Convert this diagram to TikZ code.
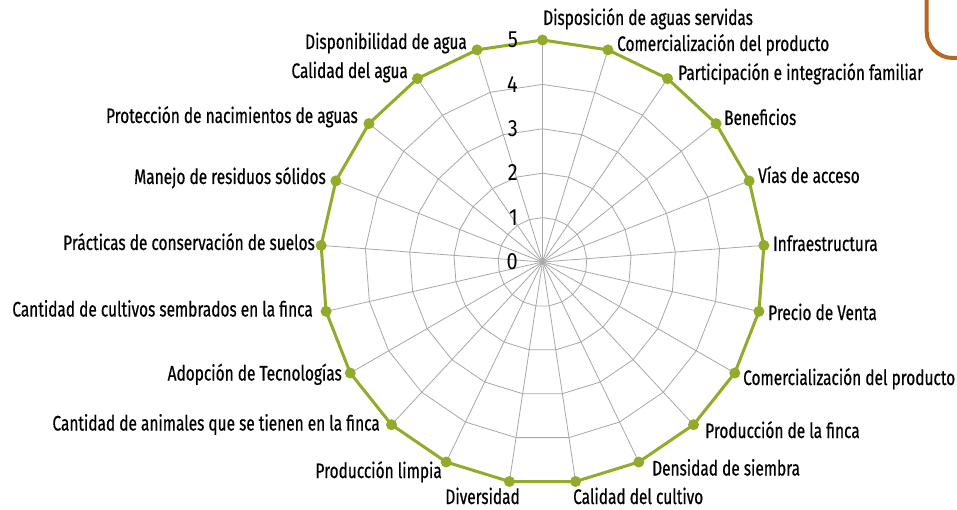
\documentclass[tikz,border=0pt]{standalone}
\usepackage{fontspec}
\usetikzlibrary{calc}
\setmainfont{Fira Sans}[FakeStretch=0.735,FakeBold=0.5]
\newfontfamily\tickfont{Fira Sans}[FakeStretch=0.85]
\definecolor{serie}{RGB}{145,172,42}
\definecolor{rejilla}{RGB}{168,168,168}
\definecolor{marco}{RGB}{182,104,32}
\tikzset{
  gridline/.style={draw=rejilla, line width=0.8pt},
  serieline/.style={draw=serie, line width=3pt, line join=round},
  marker/.style={circle, fill=serie, inner sep=0pt, minimum size=11pt},
  catlabel/.style={inner sep=0pt, font=\fontsize{21}{24}\selectfont, text=black},
  ticklabel/.style={inner sep=0pt, font=\tickfont\fontsize{23.5}{26}\selectfont, text=black, anchor=base east},
}
\begin{document}
\begin{tikzpicture}[x=1pt,y=-1pt]
\useasboundingbox (0,0) rectangle (957,510);
\clip (0,0) rectangle (957,510);
\fill[white] (0,0) rectangle (957,510);
\coordinate (C) at (542.5,262);
% grid rings
\foreach \r in {1,...,5}{
  \draw[gridline] ($(C)+(-90:{44.4*\r})$)
    \foreach \k in {1,...,20}{ -- ($(C)+({-90+\k*360/21}:{44.4*\r})$) } -- cycle;
}
% spokes
\foreach \k in {0,...,20}{
  \coordinate (s\k) at ($(C)+({-90+\k*360/21}:222)$);
  \draw[gridline] (C) -- (s\k);
}
% series
\draw[serieline] (s0) \foreach \k in {1,...,20}{ -- (s\k) } -- cycle;
\foreach \k in {0,...,20}{ \node[marker] (m\k) at (s\k) {}; }
% tick labels
\foreach \i in {0,...,5}{
  \node[ticklabel] (t\i) at (518,{262-44.4*\i+7.8}) {\i};
}
% category labels
\node[catlabel, anchor=base west] (l1)  at (543,25)    {Disposición de aguas servidas};
\node[catlabel, anchor=base west] (l2)  at (617,51)    {Comercialización del producto};
\node[catlabel, anchor=base west] (l3)  at (678,80)    {Participación e integración familiar};
\node[catlabel, anchor=base west] (l4)  at (724,125)   {Beneficios};
\node[catlabel, anchor=base west] (l5)  at (758,183)   {Vías de acceso};
\node[catlabel, anchor=base west] (l6)  at (773,251)   {Infraestructura};
\node[catlabel, anchor=base west] (l7)  at (768,320)   {Precio de Venta};
\node[catlabel, anchor=base west] (l8)  at (743,385)   {Comercialización del producto};
\node[catlabel, anchor=base west] (l9)  at (705,438)   {Producción de la finca};
\node[catlabel, anchor=base west] (l10) at (652,475.5) {Densidad de siembra};
\node[catlabel, anchor=base west] (l11) at (573,504)   {Calidad del cultivo};
\node[catlabel, anchor=base east] (l12) at (520,504)   {Diversidad};
\node[catlabel, anchor=base east] (l13) at (442,478)   {Producción limpia};
\node[catlabel, anchor=base east] (l14) at (380,430.5) {Cantidad de animales que se tienen en la finca};
\node[catlabel, anchor=base east] (l15) at (342,380.5) {Adopción de Tecnologías};
\node[catlabel, anchor=base east] (l16) at (313,316.5) {Cantidad de cultivos sembrados en la finca};
\node[catlabel, anchor=base east] (l17) at (315,250)   {Prácticas de conservación de suelos};
\node[catlabel, anchor=base east] (l18) at (326,184)   {Manejo de residuos sólidos};
\node[catlabel, anchor=base east] (l19) at (358,123)   {Protección de nacimientos de aguas};
\node[catlabel, anchor=base east] (l20) at (408,78)    {Calidad del agua};
\node[catlabel, anchor=base east] (l21) at (467,49)    {Disponibilidad de agua};
% brown frame corner
\draw[marco, line width=4pt, rounded corners=26pt] (926.7,-10) -- (926.7,58) -- (990,58);
\end{tikzpicture}
\end{document}
